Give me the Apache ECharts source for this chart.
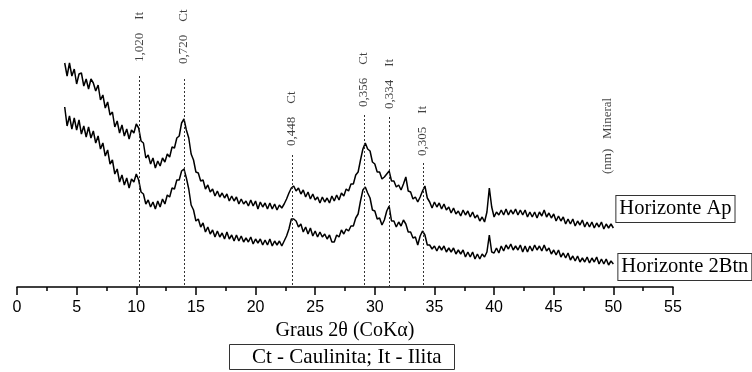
<!DOCTYPE html>
<html><head><meta charset="utf-8">
<script src="https://cdn.jsdelivr.net/npm/echarts@6/dist/echarts.min.js"></script>
<style>html,body{margin:0;padding:0;background:#fff}#c{width:752px;height:372px}</style>
</head><body><div id="c"></div>
<script>
const theta = [
4.0,4.2,4.4,4.6,4.8,5.0,5.2,5.4,5.6,5.8,
6.0,6.2,6.4,6.6,6.8,7.0,7.2,7.4,7.6,7.8,
8.0,8.2,8.4,8.6,8.8,9.0,9.2,9.4,9.6,9.8,
10.0,10.2,10.4,10.6,10.8,11.0,11.2,11.4,11.6,11.8,
12.0,12.2,12.4,12.6,12.8,13.0,13.2,13.4,13.6,13.8,
14.0,14.2,14.4,14.6,14.8,15.0,15.2,15.4,15.6,15.8,
16.0,16.2,16.4,16.6,16.8,17.0,17.2,17.4,17.6,17.8,
18.0,18.2,18.4,18.6,18.8,19.0,19.2,19.4,19.6,19.8,
20.0,20.2,20.4,20.6,20.8,21.0,21.2,21.4,21.6,21.8,
22.0,22.2,22.4,22.6,22.8,23.0,23.2,23.4,23.6,23.8,
24.0,24.2,24.4,24.6,24.8,25.0,25.2,25.4,25.6,25.8,
26.0,26.2,26.4,26.6,26.8,27.0,27.2,27.4,27.6,27.8,
28.0,28.2,28.4,28.6,28.8,29.0,29.2,29.4,29.6,29.8,
30.0,30.2,30.4,30.6,30.8,31.0,31.2,31.4,31.6,31.8,
32.0,32.2,32.4,32.6,32.8,33.0,33.2,33.4,33.6,33.8,
34.0,34.2,34.4,34.6,34.8,35.0,35.2,35.4,35.6,35.8,
36.0,36.2,36.4,36.6,36.8,37.0,37.2,37.4,37.6,37.8,
38.0,38.2,38.4,38.6,38.8,39.0,39.2,39.4,39.6,39.8,
40.0,40.2,40.4,40.6,40.8,41.0,41.2,41.4,41.6,41.8,
42.0,42.2,42.4,42.6,42.8,43.0,43.2,43.4,43.6,43.8,
44.0,44.2,44.4,44.6,44.8,45.0,45.2,45.4,45.6,45.8,
46.0,46.2,46.4,46.6,46.8,47.0,47.2,47.4,47.6,47.8,
48.0,48.2,48.4,48.6,48.8,49.0,49.2,49.4,49.6,49.8,
50.0];

const horizonteAp = [
224,211,224,211,218,203,213,214,201,208,
198,208,204,196,202,187,192,179,185,172,
175,160,166,154,162,151,158,148,157,154,
163,159,146,144,129,132,123,129,119,126,
121,129,125,133,130,140,139,149,151,164,
168,157,149,133,127,115,114,106,107,98,
102,95,98,91,96,90,94,89,93,86,
91,86,90,83,88,83,86,81,87,81,
86,78,85,80,84,78,84,78,83,77,
82,79,83,88,94,99,101,96,99,93,
97,90,95,88,93,87,90,84,90,85,
89,84,91,86,92,87,94,91,98,96,
103,103,112,115,127,138,144,138,136,125,
123,115,115,108,110,113,116,106,106,100,
102,97,103,110,96,95,88,90,85,90,
96,101,89,85,79,85,80,84,78,83,
77,80,74,79,73,76,71,77,72,76,
70,75,69,72,66,70,65,75,99,80,
70,75,72,77,72,78,72,77,73,78,
72,77,72,77,70,75,70,75,69,75,
71,77,70,74,69,73,66,71,66,70,
63,68,63,68,61,66,62,67,60,65,
60,65,59,64,60,65,58,63,59,63,
59];

const horizonte2Btn = [
180,161,171,158,169,157,167,153,161,150,
160,149,156,144,151,138,144,131,137,123,
127,113,118,105,112,102,109,99,108,105,
113,107,95,93,83,87,80,85,78,86,
80,88,83,92,90,99,98,107,107,116,
118,109,98,82,77,66,68,60,64,55,
60,53,57,50,56,50,54,48,55,48,
52,46,52,46,51,45,49,45,50,43,
48,44,48,42,47,42,48,41,46,42,
46,41,46,51,58,68,68,66,60,63,
55,60,53,59,51,56,50,55,50,53,
48,52,45,45,52,50,57,53,58,56,
61,61,69,73,86,97,100,94,89,77,
76,68,69,62,67,76,81,66,66,60,
65,61,67,63,55,55,49,50,42,51,
56,52,42,42,38,41,36,41,37,41,
35,39,35,39,33,37,33,37,30,35,
30,35,28,33,28,33,30,35,52,35,
34,39,34,41,36,42,38,43,37,41,
37,42,35,41,35,41,36,42,37,41,
36,42,36,39,33,37,32,37,30,34,
29,34,27,31,26,31,25,29,25,30,
24,29,25,30,23,28,23,28,22,26,
23];

const xTicks = [0,5,10,15,20,25,30,35,40,45,50,55];
const peakTheta = [10.28, 14.0, 23.05, 29.09, 31.24, 34.03];
const peakD = ['1,020','0,720','0,448','0,356','0,334','0,305'];
const peakMineral = ['It','Ct','Ct','Ct','It','It'];
const peakLineTop = [211, 208, 132, 172, 170, 124];
const peakLabelBase = [224, 222, 140, 179, 177, 130];
const headerTheta = 49.5;
const headerBase = 112;
const headerText = '(nm)   Mineral';
const seriesNames = ['Horizonte Ap', 'Horizonte 2Btn'];

const SERIF = "'Liberation Serif','Times New Roman',serif";
const SANS = "'Liberation Sans',Arial,sans-serif";

const chart = echarts.init(document.getElementById('c'), null, {renderer:'canvas'});

const labelData = peakTheta.map((t,i)=>({value:[t, peakLabelBase[i]], name: peakD[i] + '    ' + peakMineral[i]}));
labelData.push({value:[headerTheta, headerBase], name: headerText});

const endLbl = (offset) => ({
  show: true, formatter: '{a}', distance: 0, offset: offset,
  fontFamily: SERIF, fontSize: 20.5, color: '#000',
  backgroundColor: '#fff', borderColor: '#333', borderWidth: 1,
  padding: [3, 3, 2, 3], align: 'left', verticalAlign: 'middle'
});

chart.setOption({
  animation: false,
  grid: {left: 17, right: 79, top: 0, bottom: 85, containLabel: false},
  title: {
    text: 'Ct - Caulinita; It - Ilita', left: 229, top: 344,
    borderWidth: 1, borderColor: '#333', padding: [3, 13, 2, 23],
    textStyle: {fontFamily: SERIF, fontSize: 21, fontWeight: 'normal', color: '#000'}
  },
  xAxis: {
    type: 'value', min: 0, max: 55, interval: 5,
    name: 'Graus 2θ (CoKα)', nameLocation: 'middle', nameGap: 33,
    nameTextStyle: {fontFamily: SERIF, fontSize: 20, color: '#000'},
    axisLine: {show: true, onZero: false, lineStyle: {color: '#000', width: 1.5}},
    axisTick: {show: true, inside: false, length: 8, lineStyle: {color: '#000', width: 1.5}},
    minorTick: {show: true, splitNumber: 2, length: 4, lineStyle: {color: '#000', width: 1.5}},
    axisLabel: {fontFamily: SANS, fontSize: 16, color: '#000', margin: 13,
      formatter: v => xTicks.indexOf(v) >= 0 ? String(v) : ''},
    splitLine: {show: false}
  },
  yAxis: {type: 'value', min: 0, max: 287, show: false},
  series: [
    {
      name: seriesNames[0], type: 'line', showSymbol: false, symbol: 'none',
      data: theta.map((t,i)=>[t, horizonteAp[i]]),
      lineStyle: {color: '#000', width: 1.5},
      endLabel: endLbl([3, -19]),
      markLine: {
        silent: true, symbol: ['none','none'], label: {show: false},
        lineStyle: {type: [2, 2], color: '#333', width: 1},
        data: peakTheta.map((t,i)=>[{coord:[t, peakLineTop[i]]},{coord:[t, 0]}])
      },
      z: 3
    },
    {
      name: seriesNames[1], type: 'line', showSymbol: false, symbol: 'none',
      data: theta.map((t,i)=>[t, horizonte2Btn[i]]),
      lineStyle: {color: '#000', width: 1.5},
      endLabel: endLbl([5, 3]),
      z: 3
    },
    {
      name: 'labels', type: 'scatter', symbolSize: 0, silent: true,
      data: labelData,
      label: {
        show: true, formatter: p => p.name, rotate: 90, position: [0, 0],
        align: 'left', verticalAlign: 'middle', offset: [1, 0],
        fontFamily: SERIF, fontSize: 13, color: '#111'
      }
    }
  ]
});
</script></body></html>
